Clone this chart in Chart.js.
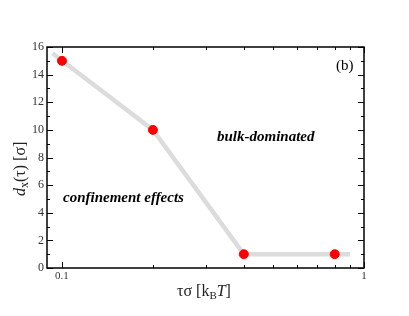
<!DOCTYPE html>
<html>
<head>
<meta charset="utf-8">
<script src="https://cdn.jsdelivr.net/npm/chart.js@4"></script>
<style>
  html, body { margin: 0; padding: 0; background: #fff; }
  #wrap { width: 409px; height: 316px; }
</style>
</head>
<body>
<div id="wrap"><canvas id="dxChart" width="409" height="316"></canvas></div>
<script>
// measured points
const tauSigma = [0.1, 0.2, 0.4, 0.8];
const dx = [15, 10, 1, 1];
// grey guide line through the points
const guideX = [0.093, 0.2, 0.4, 0.9];
const guideY = [15.55, 10, 1, 1];
const xTickLabels = [0.1, 1];
const xMinorTicks = [0.2, 0.3, 0.4, 0.5, 0.6, 0.7, 0.8, 0.9];

const serif = '"Liberation Serif", "DejaVu Serif", serif';

// frame, inward ticks, axis titles and annotations
const framePlugin = {
  id: 'frame',
  afterDraw(chart) {
    const c = chart.ctx;
    const a = chart.chartArea;
    const xs = chart.scales.x, ys = chart.scales.y;
    c.save();
    c.strokeStyle = '#000';
    c.lineWidth = 1.5;
    c.strokeRect(a.left, a.top, a.right - a.left, a.bottom - a.top);

    c.lineWidth = 1;
    c.beginPath();
    // y ticks: major every 2, minor every 1
    for (let v = 0; v <= 16; v++) {
      const py = Math.round(ys.getPixelForValue(v)) + 0.5;
      const len = v % 2 === 0 ? 6 : 3;
      c.moveTo(a.left, py); c.lineTo(a.left + len, py);
      c.moveTo(a.right, py); c.lineTo(a.right - len, py);
    }
    // x ticks
    xTickLabels.concat(xMinorTicks).forEach(v => {
      const px = Math.round(xs.getPixelForValue(v)) + 0.5;
      const len = xTickLabels.includes(v) ? 6 : 3;
      c.moveTo(px, a.bottom); c.lineTo(px, a.bottom - len);
      c.moveTo(px, a.top); c.lineTo(px, a.top + len);
    });
    c.stroke();

    c.fillStyle = '#000';
    c.textBaseline = 'middle';
    // annotations
    c.font = 'italic bold 15px ' + serif;
    c.textAlign = 'left';
    c.fillText('bulk-dominated', 217, 137);
    c.fillText('confinement effects', 63, 198);
    c.font = '15px ' + serif;
    c.fillText('(b)', 336, 66);

    // x title: τσ [k_B T]
    c.fillStyle = '#222';
    let x = 177, y = 292;
    const part = (t, font, dy) => {
      c.font = font;
      c.fillText(t, x, y + (dy || 0));
      x += c.measureText(t).width;
    };
    part('τσ [k', '16px ' + serif);
    part('B', '11px ' + serif, 4);
    part('T', 'italic 16px ' + serif);
    part(']', '16px ' + serif);

    // y title: d_x(τ) [σ]
    c.save();
    c.translate(21, 196);
    c.rotate(-Math.PI / 2);
    x = 0; y = 0;
    part('d', 'italic 16px ' + serif);
    part('x', '12px ' + serif, 4);
    part('(τ) [σ]', '16px ' + serif);
    c.restore();
    c.restore();
  }
};

new Chart(document.getElementById('dxChart').getContext('2d'), {
  type: 'scatter',
  data: {
    datasets: [{
      data: guideX.map((v, i) => ({ x: v, y: guideY[i] })),
      showLine: true,
      borderColor: '#dcdcdc',
      borderWidth: 4.5,
      pointRadius: 0,
      order: 2
    }, {
      data: tauSigma.map((v, i) => ({ x: v, y: dx[i] })),
      backgroundColor: '#ff0000',
      borderColor: '#ff0000',
      pointRadius: 4.5,
      order: 1
    }]
  },
  options: {
    responsive: false,
    animation: false,
    layout: { padding: { top: 47, right: 45, left: 0, bottom: 0 } },
    plugins: { legend: { display: false }, tooltip: { enabled: false } },
    scales: {
      x: {
        type: 'logarithmic',
        min: 0.0892,
        max: 1,
        afterBuildTicks: s => { s.ticks = xTickLabels.map(v => ({ value: v })); },
        afterFit: s => { s.height = 48; },
        grid: { display: false, drawTicks: false, tickLength: 0 },
        border: { display: false },
        ticks: {
          color: '#333',
          font: { family: serif, size: 11 },
          padding: 2,
          maxRotation: 0,
          callback: v => String(v)
        }
      },
      y: {
        min: 0,
        max: 16,
        afterFit: s => { s.width = 47; },
        grid: { display: false, drawTicks: false, tickLength: 0 },
        border: { display: false },
        ticks: {
          stepSize: 2,
          color: '#333',
          font: { family: serif, size: 12 },
          padding: 3
        }
      }
    }
  },
  plugins: [framePlugin]
});
</script>
</body>
</html>
